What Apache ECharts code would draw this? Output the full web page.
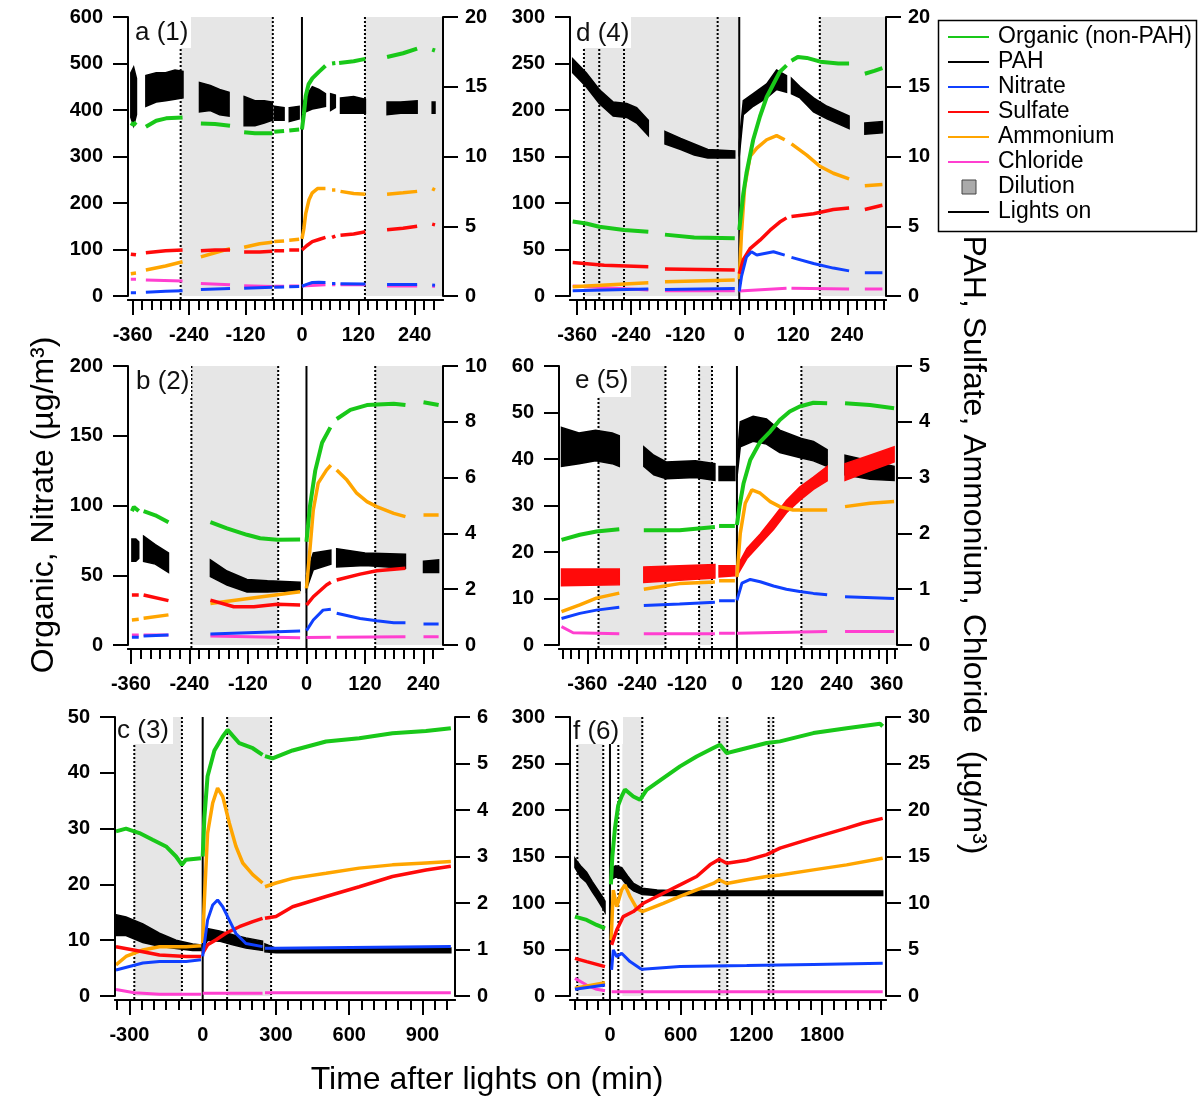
<!DOCTYPE html>
<html><head><meta charset="utf-8">
<script src="https://cdn.jsdelivr.net/npm/echarts@6/dist/echarts.min.js"></script>
<style>html,body{margin:0;padding:0;background:#fff}#c{width:1203px;height:1101px}</style>
</head><body><div id="c"></div>
<script>
// ---------- tick labels ----------
const a_major = [-360,-240,-120,0,120,240];
const d_major = [-360,-240,-120,0,120,240];
const b_major = [-360,-240,-120,0,120,240];
const e_major = [-360,-240,-120,0,120,240,360];
const c_major = [-300,0,300,600,900];
const f_major = [0,600,1200,1800];

// ---------- panel a (1) ----------
const a_gray = [[-258,-62],[134,300]];
const a_dots = [-258,-62,134];
const a_org = [
 [[-364,372],[-358,368],[-353,374]],
 [[-332,364],[-310,377],[-289,382],[-254,384]],
 [[-215,371],[-185,370],[-153,366]],
 [[-123,352],[-100,350],[-63,350]],
 [[-59,353],[-38,355]],
 [[-27,356],[-6,358]],
 [[0,358],[4,390],[8,430],[14,455],[22,468],[36,482],[50,495]],
 [[64,500],[71,501]],
 [[79,501],[110,505],[135,510]],
 [[181,514],[215,522],[245,532]],
 [[277,530],[283,528]]
];
const a_pah = [
 [[-364,12.8,16.0],[-358,12.2,16.4],[-352,13.0,15.6]],
 [[-332,13.6,15.8],[-310,13.9,16.0],[-290,14.0,16.0],[-270,14.1,16.2],[-253,14.2,16.1]],
 [[-218,13.2,15.3],[-195,13.3,15.1],[-175,13.0,14.8],[-155,12.9,14.6]],
 [[-123,12.2,14.3],[-100,12.2,14.0],[-80,12.4,14.0],[-63,12.6,13.9]],
 [[-59,12.6,13.6],[-38,12.6,13.5]],
 [[-27,12.5,13.5],[-6,12.7,13.6]],
 [[0,12.8,13.6],[8,13.2,14.3],[22,13.4,15.0],[36,13.5,14.8],[50,13.6,14.5]],
 [[61,13.3,14.5],[71,13.5,14.4]],
 [[82,13.1,14.2],[110,13.1,14.3],[135,13.1,14.1]],
 [[181,13.0,13.9],[210,13.1,13.9],[245,13.1,14.0]],
 [[277,13.1,13.9],[283,13.1,13.9]]
];
const a_amm = [
 [[-364,1.6],[-353,1.65]],
 [[-332,1.86],[-290,2.15],[-254,2.46]],
 [[-215,2.8],[-185,3.1],[-153,3.4]],
 [[-123,3.5],[-90,3.75],[-63,3.85]],
 [[-59,3.9],[-38,3.95]],
 [[-27,4.0],[-6,4.06]],
 [[0,4.1],[4,4.8],[8,5.9],[15,6.9],[22,7.4],[33,7.7],[50,7.7]],
 [[64,7.6],[71,7.6]],
 [[82,7.5],[110,7.35],[135,7.3]],
 [[181,7.3],[215,7.4],[245,7.5]],
 [[277,7.7],[283,7.6]]
];
const a_sul = [
 [[-364,3.0],[-353,2.95]],
 [[-332,3.1],[-290,3.25],[-254,3.3]],
 [[-215,3.25],[-185,3.3],[-153,3.3]],
 [[-123,3.15],[-90,3.15],[-63,3.2]],
 [[-59,3.25],[-38,3.25]],
 [[-27,3.3],[-6,3.3]],
 [[0,3.3],[10,3.6],[22,3.9],[36,4.05],[50,4.2]],
 [[64,4.2],[71,4.3]],
 [[82,4.35],[110,4.45],[135,4.6]],
 [[181,4.75],[215,4.85],[245,5.0]],
 [[277,5.15],[283,5.1]]
];
const a_nit = [
 [[-364,7],[-353,7]],
 [[-332,8],[-290,10],[-254,11.5]],
 [[-215,14],[-153,16]],
 [[-123,16.5],[-63,18.6]],
 [[-59,19],[-38,19.5]],
 [[-27,20],[-6,20.5]],
 [[0,21],[10,25],[22,29],[36,29.5],[50,29]],
 [[64,27],[71,27]],
 [[82,26.5],[135,26]],
 [[181,25],[245,25]],
 [[277,23.6],[283,23]]
];
const a_chl = [
 [[-364,1.2],[-353,1.2]],
 [[-332,1.15],[-254,1.07]],
 [[-215,0.9],[-153,0.8]],
 [[-123,0.74],[-63,0.68]],
 [[-59,0.7],[-38,0.7]],
 [[-27,0.72],[-6,0.72]],
 [[0,0.72],[50,0.8]],
 [[64,0.8],[71,0.8]],
 [[82,0.8],[135,0.8]],
 [[181,0.72],[245,0.72]],
 [[277,0.72],[283,0.68]]
];

// ---------- panel d (4) ----------
const d_gray = [[-345,0],[179,326]];
const d_dots = [-345,-311,-256,-48,179];
const d_org = [
 [[-370,80],[-340,78],[-311,74.5],[-256,71],[-202,69]],
 [[-165,66],[-100,63],[-10,62]],
 [[0,71],[9,110],[16,132],[31,168],[46,193],[61,214],[76,228],[90,241],[105,248]],
 [[116,253],[130,257],[150,256],[180,252],[220,250],[244,250]],
 [[279,239],[300,242],[318,245]]
];
const d_pah = [
 [[-370,16.0,17.0],[-340,15.0,16.0],[-311,13.8,14.8],[-280,12.9,13.9],[-250,12.8,13.8],[-228,12.4,13.5],[-202,11.5,12.6]],
 [[-165,10.9,11.8],[-130,10.5,11.3],[-100,10.1,10.9],[-70,9.9,10.5],[-10,9.9,10.4]],
 [[0,10.0,11.0],[9,13.0,14.0],[31,13.6,14.5],[61,14.2,15.2],[83,14.8,16.2],[105,14.6,15.8]],
 [[116,14.5,15.6],[135,14.2,15.0],[165,13.2,14.2],[195,12.7,13.6],[244,12.0,12.9]],
 [[279,11.6,12.4],[318,11.7,12.5]]
];
const d_amm = [
 [[-370,0.67],[-202,0.95]],
 [[-165,1.03],[-10,1.15]],
 [[0,1.2],[5,4.5],[12,7.8],[24,10.0],[39,10.6],[61,11.2],[83,11.5],[101,11.2]],
 [[116,10.9],[150,10.1],[179,9.3],[209,8.8],[244,8.4]],
 [[279,7.9],[318,8.0]]
];
const d_sul = [
 [[-370,2.4],[-300,2.2],[-202,2.1]],
 [[-165,1.93],[-10,1.86]],
 [[0,1.6],[9,2.6],[24,3.4],[46,4.0],[68,4.7],[90,5.3],[105,5.6]],
 [[116,5.7],[165,5.9],[209,6.2],[244,6.3]],
 [[279,6.2],[318,6.5]]
];
const d_nit = [
 [[-370,5.7],[-202,7.5]],
 [[-165,7],[-10,8]],
 [[0,5],[5,21],[16,42],[27,47.6],[39,44],[76,47.6],[101,44]],
 [[116,41.5],[165,35],[209,30],[244,27]],
 [[279,25],[318,25]]
];
const d_chl = [
 [[-370,0.72],[-202,0.43]],
 [[-165,0.38],[-10,0.38]],
 [[0,0.36],[105,0.55]],
 [[116,0.55],[244,0.5]],
 [[279,0.5],[318,0.5]]
];

// ---------- panel b (2) ----------
const b_gray = [[-236,-58],[141,280]];
const b_dots = [-236,-58,141];
const b_org = [
 [[-358,96],[-354,99],[-344,96]],
 [[-334,96],[-310,93],[-283,88]],
 [[-197,88],[-163,83.6],[-122,79],[-95,76.5],[-60,75.5],[-13,75.7]],
 [[0,74],[7,99],[18,125],[32,145],[49,156]],
 [[62,162],[90,168.5],[124,172],[179,173],[203,172]],
 [[240,174],[271,172]]
];
const b_pah = [
 [[-358,3.0,3.8],[-350,3.0,3.8],[-344,3.1,3.7]],
 [[-334,3.0,3.9],[-310,2.9,3.6],[-283,2.6,3.3]],
 [[-197,2.45,3.05],[-163,2.15,2.65],[-122,1.9,2.35],[-80,1.9,2.3],[-13,1.95,2.25]],
 [[0,2.0,2.5],[14,2.7,3.3],[50,2.9,3.4]],
 [[62,2.8,3.45],[120,2.85,3.3],[203,2.75,3.25]],
 [[240,2.6,3.0],[271,2.6,3.05]]
];
const b_amm = [
 [[-358,0.9],[-344,0.92]],
 [[-334,0.96],[-283,1.08]],
 [[-197,1.49],[-13,1.91]],
 [[0,2.03],[7,3.4],[14,4.84],[24,5.8],[41,6.27],[50,6.45]],
 [[62,6.27],[83,5.91],[103,5.44],[124,5.14],[144,4.96],[179,4.72],[203,4.6]],
 [[240,4.66],[271,4.66]]
];
const b_sul = [
 [[-358,1.79],[-344,1.79]],
 [[-334,1.79],[-283,1.59]],
 [[-197,1.61],[-149,1.37],[-108,1.37],[-60,1.46],[-13,1.43]],
 [[0,1.43],[14,1.73],[41,2.15],[50,2.25]],
 [[62,2.33],[110,2.54],[144,2.66],[203,2.75]]
];
const b_nit = [
 [[-358,5.5],[-344,5.5]],
 [[-334,6.5],[-283,7.2]],
 [[-197,7.9],[-13,10]],
 [[0,10.3],[14,17.9],[34,25],[50,25.6]],
 [[62,22.7],[110,19],[144,17.4],[179,16],[203,16]],
 [[240,15],[271,15]]
];
const b_chl = [
 [[-358,0.36],[-344,0.36]],
 [[-334,0.36],[-283,0.36]],
 [[-197,0.32],[-13,0.26]],
 [[0,0.27],[50,0.28]],
 [[62,0.28],[203,0.3]],
 [[240,0.3],[271,0.3]]
];

// ---------- panel e (5) ----------
const e_gray = [[-333,-172],[-91,-60],[155,385]];
const e_dots = [-333,-172,-91,-60,155];
const e_org = [
 [[-422,22.6],[-378,23.7],[-338,24.4],[-283,24.9]],
 [[-224,24.7],[-138,24.7],[-53,25.4]],
 [[-43,25.6],[-5,25.6]],
 [[0,25.8],[6,29.7],[16,34.8],[32,39.8],[56,43.7],[80,45.9],[103,48.4],[127,50.2],[151,51.3],[184,52.1],[217,52]],
 [[260,52],[320,51.6],[378,50.9]]
];
const e_pah = [
 [[-422,3.2,3.9],[-380,3.25,3.8],[-340,3.3,3.85],[-300,3.25,3.8],[-283,3.2,3.75]],
 [[-224,3.2,3.55],[-200,3.05,3.4],[-170,2.98,3.28],[-100,3.0,3.3],[-53,2.95,3.25]],
 [[-43,2.95,3.2],[-5,2.95,3.2]],
 [[0,3.0,3.3],[8,3.55,4.0],[39,3.65,4.1],[71,3.6,4.05],[103,3.45,3.85],[155,3.35,3.7],[184,3.3,3.65],[217,3.2,3.5]],
 [[260,3.05,3.4],[320,2.97,3.3],[378,2.95,3.2]]
];
const e_amm = [
 [[-422,0.6],[-378,0.72],[-338,0.84],[-283,0.93]],
 [[-224,1.0],[-138,1.1],[-53,1.13]],
 [[-43,1.15],[-5,1.15]],
 [[0,1.22],[8,2.0],[20,2.54],[36,2.78],[56,2.72],[80,2.57],[103,2.48],[135,2.42],[184,2.42],[217,2.42]],
 [[260,2.48],[320,2.54],[378,2.57]]
];
const e_sul = [
 [[-422,1.06,1.36],[-283,1.08,1.36]],
 [[-224,1.12,1.4],[-53,1.2,1.44]],
 [[-43,1.22,1.42],[-5,1.24,1.42]],
 [[0,1.24,1.4],[24,1.55,1.73],[56,1.81,1.99],[88,2.07,2.29],[119,2.37,2.59],[151,2.59,2.83],[184,2.79,3.01],[217,2.94,3.2]],
 [[260,2.95,3.25],[320,3.12,3.4],[378,3.28,3.55]]
];
const e_nit = [
 [[-422,5.7],[-378,6.8],[-338,7.5],[-283,8.1]],
 [[-224,8.5],[-138,8.8],[-53,9.2]],
 [[-43,9.5],[-5,9.5]],
 [[0,9.6],[12,13.3],[32,14.1],[56,13.6],[88,12.7],[119,12.0],[151,11.5],[184,11.1],[217,10.8]],
 [[260,10.4],[378,10.0]]
];
const e_chl = [
 [[-422,0.33],[-394,0.22],[-283,0.2]],
 [[-224,0.2],[-53,0.2]],
 [[-43,0.21],[-5,0.21]],
 [[0,0.21],[217,0.24]],
 [[260,0.24],[378,0.24]]
];

// ---------- panel c (3) ----------
const c_gray = [[-280,-85],[100,280]];
const c_dots = [-280,-85,100,280];
const c_org = [
 [[-355,29.5],[-314,30],[-259,29.2],[-205,28],[-150,26.8],[-109,25],[-85,23.5],[-69,24.4],[-7,24.7]],
 [[0,25],[7,32],[20,39.4],[48,44],[82,46.5],[102,47.7],[150,45.3],[205,44.4],[245,43.2]],
 [[255,43],[286,42.6],[368,44],[505,45.6],[641,46.2],[777,47.1],[914,47.5],[1016,48]]
];
const c_pah = [
 [[-355,1.3,1.75],[-314,1.3,1.7],[-245,1.15,1.55],[-177,1.07,1.35],[-109,1.02,1.2],[-41,0.98,1.12],[-7,0.98,1.1]],
 [[0,1.0,1.2],[20,1.2,1.45],[68,1.18,1.4],[123,1.1,1.32],[177,1.03,1.25],[245,0.98,1.18]],
 [[255,0.95,1.12],[300,0.93,1.03],[1016,0.93,1.03]]
];
const c_amm = [
 [[-355,0.67],[-314,0.85],[-245,0.99],[-177,1.06],[-68,1.06],[-7,1.08]],
 [[0,1.14],[7,2.07],[20,3.5],[41,4.15],[61,4.47],[82,4.29],[109,3.72],[136,3.22],[164,2.86],[205,2.61],[245,2.43]],
 [[255,2.35],[300,2.43],[368,2.53],[505,2.64],[641,2.75],[777,2.82],[914,2.86],[1016,2.89]]
];
const c_sul = [
 [[-355,1.06],[-245,0.95],[-177,0.88],[-68,0.85],[-7,0.85]],
 [[0,0.92],[20,1.1],[55,1.21],[95,1.35],[150,1.49],[205,1.6],[245,1.67]],
 [[255,1.67],[300,1.71],[368,1.92],[505,2.14],[641,2.35],[777,2.57],[914,2.71],[1016,2.79]]
];
const c_nit = [
 [[-355,4.67],[-300,5.3],[-245,5.9],[-177,6.2],[-68,6.2],[-7,6.5]],
 [[0,7.1],[20,13.6],[41,16.3],[61,17.2],[82,16],[109,13.6],[136,11.2],[177,9.4],[245,8.85]],
 [[255,8.55],[300,8.55],[1016,8.85]]
];
const c_chl = [
 [[-355,0.14],[-280,0.07],[-177,0.04],[-7,0.04]],
 [[0,0.06],[245,0.06]],
 [[255,0.07],[1016,0.07]]
];

// ---------- panel f (6) ----------
const f_gray = [[-277,-57],[105,274],[930,993],[1348,1383]];
const f_dots = [-277,-57,71,274,927,995,1346,1385];
const f_org = [
 [[-297,85.4],[-198,81.8],[-113,76.4],[-42,72.8]],
 [[8,120],[20,150],[42,180],[70,205],[100,215],[127,222],[198,214.6],[254,211],[311,221.7],[452,234.3],[594,246.9],[735,257.6],[876,266.6],[933,270.2],[990,261.2],[1103,264.8],[1329,272],[1442,273.8],[1725,282.7],[2007,288],[2290,292.8],[2313,290]]
];
const f_pah = [
 [[-297,13.8,14.8],[-250,12.8,14],[-198,12.2,13.3],[-150,11.2,12.3],[-113,10.5,11.6],[-70,9.6,10.8],[-42,9.0,10.2]],
 [[10,12.5,13.8],[50,12.8,14.0],[100,12.6,13.8],[150,11.8,12.9],[200,11.3,12.1],[274,10.9,11.6],[400,10.8,11.4],[600,10.8,11.3],[2313,10.8,11.3]]
];
const f_amm = [
 [[-297,0.83],[-42,1.44]],
 [[10,6.0],[28,11.4],[57,9.6],[99,11.4],[127,11.95],[170,10.7],[226,9.44],[274,9.08],[452,9.97],[594,10.7],[735,11.4],[876,12.1],[927,12.5],[990,12.1],[1160,12.5],[1329,12.85],[1442,13.0],[1725,13.56],[2007,14.1],[2313,14.82]]
];
const f_sul = [
 [[-297,4.05],[-198,3.7],[-42,3.16]],
 [[14,5.5],[57,7.1],[113,8.54],[198,9.08],[283,9.97],[452,11.05],[594,11.95],[735,12.85],[848,14.1],[927,14.7],[990,14.28],[1160,14.6],[1329,15.2],[1442,15.9],[1725,17.0],[2007,18.05],[2148,18.6],[2313,19.1]]
];
const f_nit = [
 [[-297,7.2],[-42,11.8]],
 [[14,28],[28,49.5],[57,42.3],[99,46],[170,37],[254,29.8],[274,28.7],[594,31.6],[1160,32.7],[1725,34],[2313,35.2]]
];
const f_chl = [
 [[-297,1.9],[-198,1.18],[-113,0.72],[-42,0.57]],
 [[14,0.47],[2313,0.47]]
];

// ---------- styling / layout ----------
const COLORS = {org:'#19c819', pah:'#000000', nit:'#1040ff', sul:'#ff0a0a', amm:'#ffa500', chl:'#ff3fd0'};
const WIDTHS = {org:4, pah:3, nit:3, sul:3.5, amm:3.5, chl:3};
const ON_LEFT = {org:true, nit:true};
const ORDER = ['pah','chl','amm','sul','nit','org'];
const FONT = 'Liberation Sans, Arial, sans-serif';

const panels = [
 {label:'a (1)', g:{left:128,top:17,width:315,height:279}, x:[-370,300], yL:[600,100], yR:[20,5], major:a_major, minor:[-360,280,20], gray:a_gray, dots:a_dots,
  data:{pah:a_pah,chl:a_chl,amm:a_amm,sul:a_sul,nit:a_nit,org:a_org}, box:[131,17,60,31], lp:[135,33]},
 {label:'d (4)', g:{left:570,top:17,width:316,height:279}, x:[-376,326], yL:[300,50], yR:[20,5], major:d_major, minor:[-360,320,20], gray:d_gray, dots:d_dots,
  data:{pah:d_pah,chl:d_chl,amm:d_amm,sul:d_sul,nit:d_nit,org:d_org}, box:[573,17,58,31], lp:[576,34]},
 {label:'b (2)', g:{left:128,top:366,width:315,height:279}, x:[-366,280], yL:[200,50], yR:[10,2], major:b_major, minor:[-360,260,20], gray:b_gray, dots:b_dots,
  data:{pah:b_pah,chl:b_chl,amm:b_amm,sul:b_sul,nit:b_nit,org:b_org}, box:[131,366,60,31], lp:[136,382]},
 {label:'e (5)', g:{left:559,top:366,width:338,height:279}, x:[-428,385], yL:[60,10], yR:[5,1], major:e_major, minor:[-420,380,20], gray:e_gray, dots:e_dots,
  data:{pah:e_pah,chl:e_chl,amm:e_amm,sul:e_sul,nit:e_nit,org:e_org}, box:[572,366,59,31], lp:[575,381]},
 {label:'c (3)', g:{left:115,top:717,width:340,height:279}, x:[-359,1033], yL:[50,10], yR:[6,1], major:c_major, minor:[-350,1000,50], gray:c_gray, dots:c_dots,
  data:{pah:c_pah,chl:c_chl,amm:c_amm,sul:c_sul,nit:c_nit,org:c_org}, box:[116,717,57,27], lp:[117,731]},
 {label:'f (6)', g:{left:570,top:717,width:316,height:279}, x:[-339,2341], yL:[300,50], yR:[30,5], major:f_major, minor:[-300,2300,100], gray:f_gray, dots:f_dots,
  data:{pah:f_pah,chl:f_chl,amm:f_amm,sul:f_sul,nit:f_nit,org:f_org}, box:[572,717,51,27], lp:[573,732]}
];

const option = {animation:false, backgroundColor:'#ffffff', grid:[], xAxis:[], yAxis:[], series:[], graphic:[]};
const axisLine = {show:true, onZero:false, lineStyle:{color:'#000', width:2}};
const tickStyle = {color:'#000', width:2};
const tickFont = {fontFamily:FONT, fontWeight:'bold', fontSize:20, color:'#000'};

panels.forEach((p, i) => {
  option.grid.push({left:p.g.left, top:p.g.top, width:p.g.width, height:p.g.height, containLabel:false});
  const minorVals = [];
  for (let v = p.minor[0]; v <= p.minor[1]; v += p.minor[2]) minorVals.push(v);
  option.xAxis.push({type:'value', gridIndex:i, min:p.x[0], max:p.x[1], position:'bottom', offset:4, z:5,
    axisLine, splitLine:{show:false},
    axisTick:{show:true, length:15, lineStyle:tickStyle, customValues:p.major},
    axisLabel:Object.assign({show:true, margin:25, customValues:p.major, formatter:v => String(v)}, tickFont)});
  option.xAxis.push({type:'value', gridIndex:i, min:p.x[0], max:p.x[1], position:'bottom', offset:4, z:5,
    axisLine, splitLine:{show:false},
    axisTick:{show:true, length:10, lineStyle:tickStyle, customValues:minorVals},
    axisLabel:{show:false}});
  option.yAxis.push({type:'value', gridIndex:i, position:'left', min:0, max:p.yL[0], interval:p.yL[1], z:5,
    axisLine, splitLine:{show:false}, axisTick:{show:true, length:15, lineStyle:tickStyle},
    axisLabel:Object.assign({margin:25}, tickFont)});
  option.yAxis.push({type:'value', gridIndex:i, position:'right', min:0, max:p.yR[0], interval:p.yR[1], z:5,
    axisLine, splitLine:{show:false}, axisTick:{show:true, length:15, lineStyle:tickStyle},
    axisLabel:Object.assign({margin:22}, tickFont)});
  const xi = 2*i, yl = 2*i, yr = 2*i+1;
  const yMax = p.yL[0];
  // dilution (gray) regions
  option.series.push({type:'custom', xAxisIndex:xi, yAxisIndex:yl, z:1, silent:true,
    dimensions:['x0','y','x1'], encode:{x:0, y:1},
    data:p.gray.map(r => [r[0], 0, r[1]]),
    renderItem:(params, api) => {
      const a = api.coord([api.value(0), yMax]);
      const b = api.coord([api.value(2), 0]);
      return {type:'rect', shape:{x:a[0], y:a[1], width:b[0]-a[0], height:b[1]-a[1]}, style:{fill:'#e6e6e6'}};
    }});
  // dotted lines
  option.series.push({type:'custom', xAxisIndex:xi, yAxisIndex:yl, z:2, silent:true,
    data:p.dots.map(v => [v, 0]),
    renderItem:(params, api) => {
      const a = api.coord([api.value(0), 0]);
      const b = api.coord([api.value(0), yMax]);
      return {type:'line', shape:{x1:a[0], y1:a[1]+3, x2:b[0], y2:b[1]}, style:{stroke:'#000', lineWidth:2, lineDash:[2,2]}};
    }});
  // lights on
  option.series.push({type:'custom', xAxisIndex:xi, yAxisIndex:yl, z:2, silent:true,
    data:[[0, 0]],
    renderItem:(params, api) => {
      const a = api.coord([0, 0]);
      const b = api.coord([0, yMax]);
      return {type:'line', shape:{x1:a[0], y1:a[1]+3, x2:b[0], y2:b[1]}, style:{stroke:'#000', lineWidth:2}};
    }});
  // species
  ORDER.forEach(sp => {
    const yi = ON_LEFT[sp] ? yl : yr;
    const col = COLORS[sp];
    p.data[sp].forEach(seg => {
      if (seg[0].length === 3) {
        option.series.push({type:'custom', xAxisIndex:xi, yAxisIndex:yi, z:3, silent:true,
          data:[[seg[0][0], seg[0][1]]],
          renderItem:(params, api) => {
            const top = seg.map(q => api.coord([q[0], q[2]]));
            const bot = seg.slice().reverse().map(q => api.coord([q[0], q[1]]));
            return {type:'polygon', shape:{points:top.concat(bot)}, style:{fill:col, stroke:col, lineWidth:1.5}};
          }});
      } else {
        option.series.push({type:'line', xAxisIndex:xi, yAxisIndex:yi, z:3, silent:true,
          data:seg, showSymbol:false, symbol:'none', lineStyle:{color:col, width:WIDTHS[sp]}, itemStyle:{color:col}});
      }
    });
  });
  // panel label
  option.graphic.push({type:'rect', z:50, shape:{x:p.box[0], y:p.box[1], width:p.box[2], height:p.box[3]}, style:{fill:'#ffffff'}});
  option.graphic.push({type:'text', z:51, x:p.lp[0], y:p.lp[1], style:{text:p.label, font:'26px ' + FONT, fill:'#111', textAlign:'left', textVerticalAlign:'middle', align:'left', verticalAlign:'middle'}});
});

// legend box
const legendItems = [
  ['Organic (non-PAH)', COLORS.org, 'line'],
  ['PAH', COLORS.pah, 'line'],
  ['Nitrate', COLORS.nit, 'line'],
  ['Sulfate', COLORS.sul, 'line'],
  ['Ammonium', COLORS.amm, 'line'],
  ['Chloride', COLORS.chl, 'line'],
  ['Dilution', '#aaaaaa', 'box'],
  ['Lights on', '#000000', 'line']
];
option.graphic.push({type:'rect', z:50, shape:{x:938.5, y:20.5, width:258, height:211}, style:{fill:'#fff', stroke:'#000', lineWidth:1.5}});
legendItems.forEach((it, k) => {
  const y = 37 + 25*k;
  if (it[2] === 'line') {
    option.graphic.push({type:'line', z:51, shape:{x1:948, y1:y, x2:989, y2:y}, style:{stroke:it[1], lineWidth:2}});
  } else {
    option.graphic.push({type:'rect', z:51, shape:{x:962, y:y-7, width:14, height:14}, style:{fill:it[1], stroke:'#444', lineWidth:1}});
  }
  option.graphic.push({type:'text', z:51, x:998, y:y, style:{text:it[0], font:'23px ' + FONT, fill:'#000', textAlign:'left', textVerticalAlign:'middle', align:'left', verticalAlign:'middle'}});
});

// axis titles
option.graphic.push({type:'text', z:51, x:44, y:505, rotation:Math.PI/2,
  style:{text:'Organic, Nitrate (µg/m³)', font:'32px ' + FONT, fill:'#000', textAlign:'center', textVerticalAlign:'middle', align:'center', verticalAlign:'middle'}});
option.graphic.push({type:'text', z:51, x:973, y:545, rotation:-Math.PI/2,
  style:{text:'PAH, Sulfate, Ammonium, Chloride  (µg/m³)', font:'32px ' + FONT, fill:'#000', textAlign:'center', textVerticalAlign:'middle', align:'center', verticalAlign:'middle'}});
option.graphic.push({type:'text', z:51, x:487, y:1080,
  style:{text:'Time after lights on (min)', font:'32px ' + FONT, fill:'#000', textAlign:'center', textVerticalAlign:'middle', align:'center', verticalAlign:'middle'}});

const chart = echarts.init(document.getElementById('c'), null, {renderer:'canvas'});
chart.setOption(option);
</script></body></html>
